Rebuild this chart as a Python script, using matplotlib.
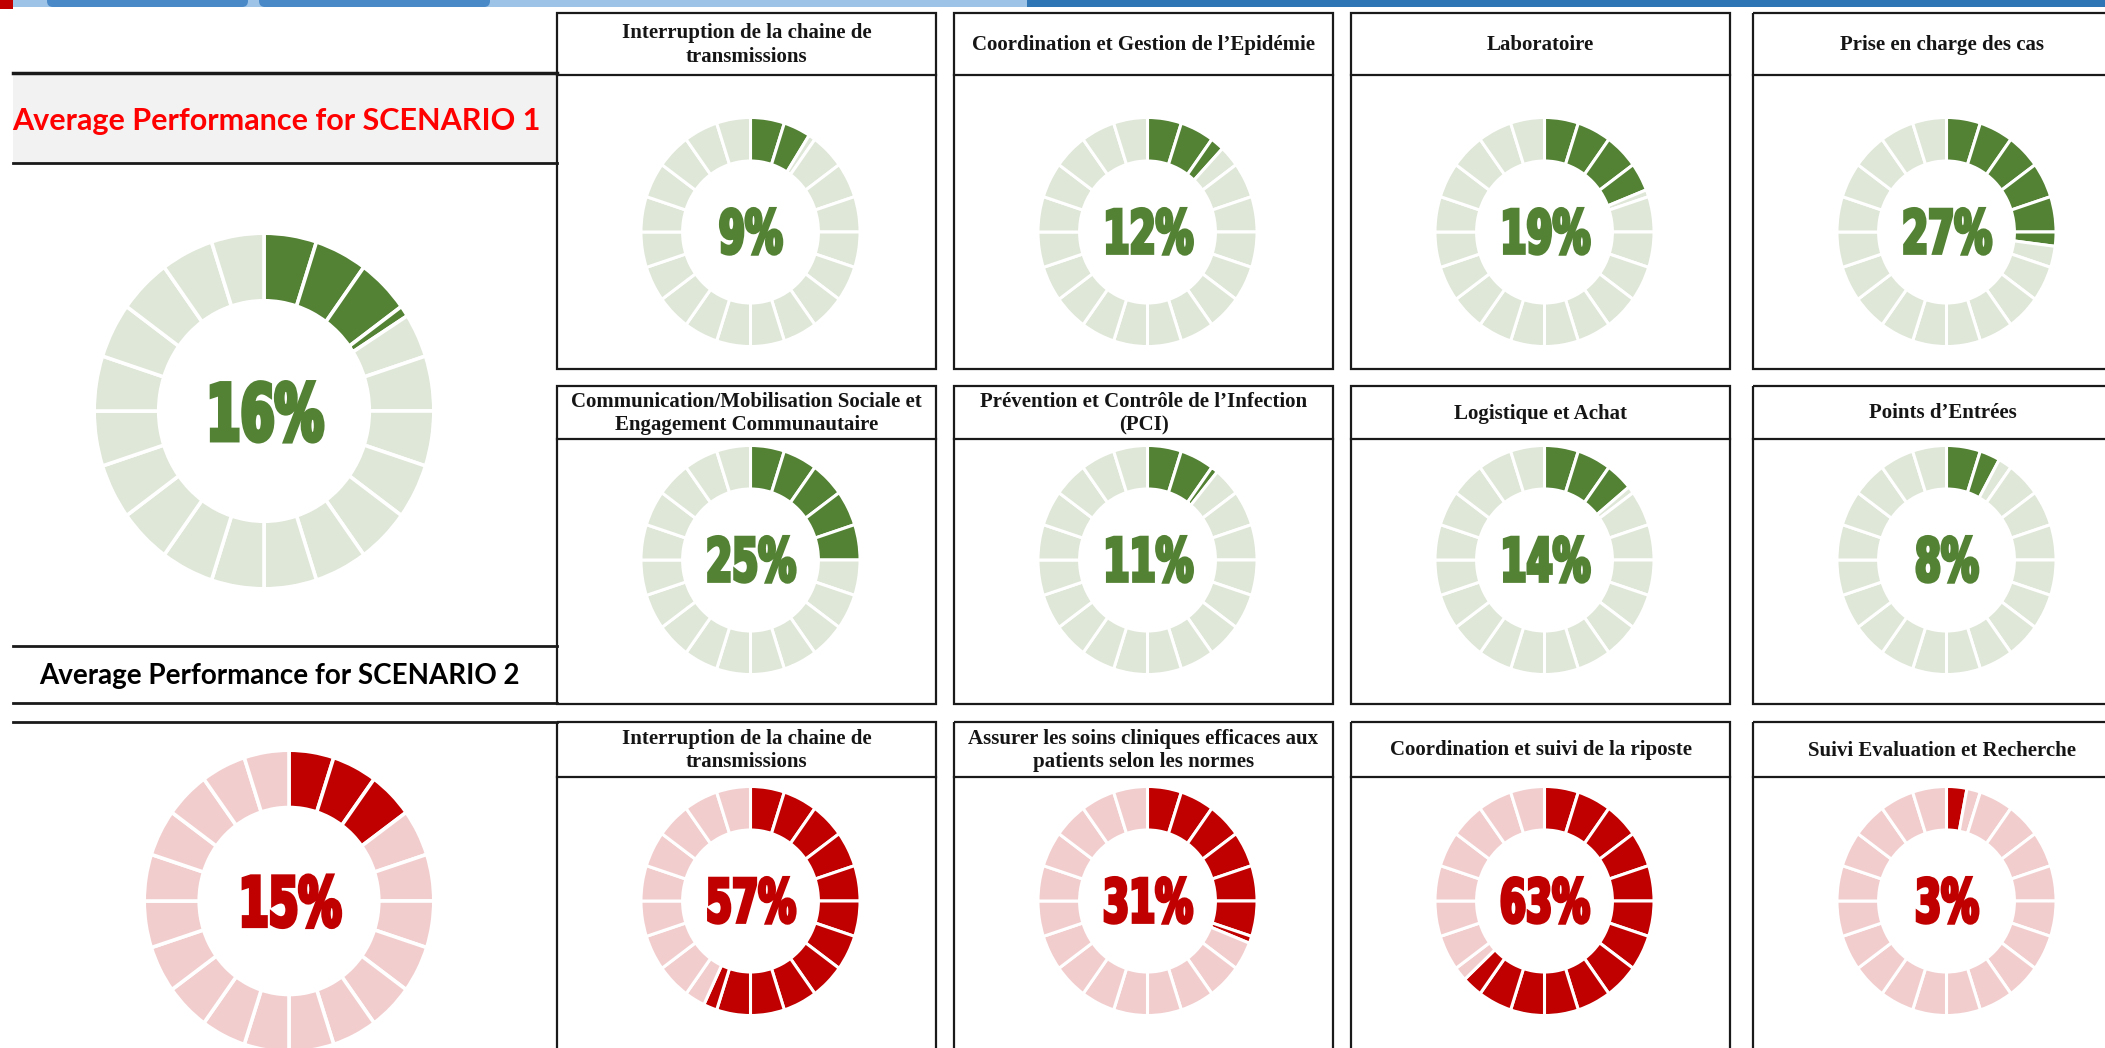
import matplotlib
matplotlib.use("Agg")
from matplotlib import pyplot as plt
from matplotlib.patches import Rectangle, FancyBboxPatch
from matplotlib.patheffects import AbstractPathEffect
from matplotlib.transforms import Affine2D

# ---- data ----
scenario1_title = "Average Performance for SCENARIO 1"
scenario1_avg = 16
scenario1_labels = [
    "Interruption de la chaine de\ntransmissions",
    "Coordination et Gestion de l\u2019Epidémie",
    "Laboratoire",
    "Prise en charge des cas",
    "Communication/Mobilisation Sociale et\nEngagement Communautaire",
    "Prévention et Contrôle de l\u2019Infection\n(PCI)",
    "Logistique et Achat",
    "Points d\u2019Entrées",
]
scenario1_values = [9, 12, 19, 27, 25, 11, 14, 8]

scenario2_title = "Average Performance for SCENARIO 2"
scenario2_avg = 15
scenario2_labels = [
    "Interruption de la chaine de\ntransmissions",
    "Assurer les soins cliniques efficaces aux\npatients selon les normes",
    "Coordination et suivi de la riposte",
    "Suivi Evaluation et Recherche",
]
scenario2_values = [57, 31, 63, 3]

N_SEG = 20          # the gauge ring is split in 20 blocks of 5 %
SEG = 100 / N_SEG

GREEN, GREEN_LIGHT = "#548235", "#DFE7D8"
RED, RED_LIGHT = "#C00000", "#F2CDCE"

HEAD_FONT = ["Liberation Serif", "DejaVu Serif"]
PCT_FONT = ["DejaVu Sans"]
SC_FONT = ["Lato", "DejaVu Sans"]


class Condensed(AbstractPathEffect):
    """squeeze + embolden glyphs (Impact-like look for the big numbers)"""

    def __init__(self, sx, stroke):
        super().__init__()
        self._sx = sx
        self._stroke = stroke

    def draw_path(self, renderer, gc, tpath, affine, rgbFace=None):
        bb = tpath.get_extents(affine)
        cx = (bb.x0 + bb.x1) / 2
        squeeze = Affine2D().translate(-cx, 0).scale(self._sx, 1).translate(cx, 0)
        gc0 = renderer.new_gc()
        gc0.copy_properties(gc)
        gc0.set_linewidth(self._stroke)
        gc0.set_foreground(rgbFace)
        gc0.set_joinstyle("miter")
        renderer.draw_path(gc0, tpath, affine + squeeze, rgbFace)
        gc0.restore()


W, H = 2105, 1048
fig = plt.figure(figsize=(W / 100, H / 100), dpi=100)
bg = fig.add_axes([0, 0, 1, 1])
bg.set_xlim(0, W)
bg.set_ylim(H, 0)
bg.axis("off")


def donut(cx, cy, rx, ry, value, dark, light, fsize, lw, stroke):
    pad = lw * 100 / 72 / 2
    ax = fig.add_axes([(cx - rx - pad) / W, 1 - (cy + ry + pad) / H,
                       2 * (rx + pad) / W, 2 * (ry + pad) / H])
    sizes, colors = [], []
    for i in range(N_SEG):
        lo, hi = i * SEG, (i + 1) * SEG
        if value >= hi:
            sizes.append(SEG); colors.append(dark)
        elif value <= lo:
            sizes.append(SEG); colors.append(light)
        else:
            sizes += [value - lo, hi - value]
            colors += [dark, light]
    ax.pie(sizes, colors=colors, startangle=90, counterclock=False, radius=1,
           wedgeprops=dict(width=0.38, edgecolor="white", linewidth=lw))
    ax.set_aspect("auto")
    ax.set_xlim(-1, 1)
    ax.set_ylim(-1, 1)
    ax.text(0, -0.04, f"{value}%", ha="center", va="center", color=dark,
            fontsize=fsize, fontweight="bold", family=PCT_FONT,
            path_effects=[Condensed(0.63, stroke)])


# ---- top ribbon ----
bg.add_patch(Rectangle((0, 0), W, 7, color="#9DC3E6", lw=0))
bg.add_patch(Rectangle((1027, 0), W - 1027, 7, color="#2E75B6", lw=0))
for x0, x1 in [(47, 248), (259, 490)]:
    bg.add_patch(FancyBboxPatch((x0 + 6, -12), x1 - x0 - 12, 13,
                                boxstyle="round,pad=6", color="#4A89C8", lw=0))
bg.add_patch(Rectangle((0, 0), 13, 9, color="#C00000", lw=0))

# ---- left panel ----
bg.add_patch(Rectangle((13, 75), 544, 88, color="#F2F2F2", lw=0))
bg.plot([13, 557], [73, 73], color="#1A1A1A", lw=2.5)
bg.plot([13, 557], [163, 163], color="#1A1A1A", lw=2)
bg.text(276, 121, scenario1_title, color="#FF0000", fontsize=22,
        fontweight="bold", family=SC_FONT, ha="center", va="center")
bg.plot([13, 557], [646, 646], color="#1A1A1A", lw=2)
bg.text(279, 676, scenario2_title, color="#000000", fontsize=20,
        fontweight="bold", family=SC_FONT, ha="center", va="center")
bg.plot([13, 557], [703, 703], color="#1A1A1A", lw=2)
bg.plot([13, 557], [722, 722], color="#1A1A1A", lw=2)

donut(264, 411, 168, 176, scenario1_avg, GREEN, GREEN_LIGHT, 56, 2.6, 3.4)
donut(289, 901, 143, 149, scenario2_avg, RED, RED_LIGHT, 49, 2.6, 3.0)

# ---- tiles ----
cols = [(557, 936), (954, 1333), (1351, 1730), (1753, 2132)]
rows = [(13, 75, 369), (386, 439, 704), (722, 777, 1070)]
ring_y = [232, 560, 901]

tiles = ([(scenario1_labels[k], scenario1_values[k], k // 4, k % 4, GREEN, GREEN_LIGHT)
          for k in range(8)] +
         [(scenario2_labels[k], scenario2_values[k], 2, k, RED, RED_LIGHT)
          for k in range(4)])

for label, val, r, c, dark, light in tiles:
    x0, x1 = cols[c]
    y0, yh, y1 = rows[r]
    bg.add_patch(Rectangle((x0, y0), x1 - x0, y1 - y0, fill=False,
                           edgecolor="#1A1A1A", lw=1.6))
    bg.plot([x0, x1], [yh, yh], color="#1A1A1A", lw=1.6)
    bg.text((x0 + x1) / 2, (y0 + yh) / 2 + 1, label, ha="center", va="center",
            fontsize=15, fontweight="bold", family=HEAD_FONT, color="#151515",
            linespacing=1.25)
    donut((x0 + x1) / 2 + 4, ring_y[r], 108, 113, val, dark, light, 43, 2.2, 2.6)

fig.savefig("out.png", dpi=100, facecolor="white")
